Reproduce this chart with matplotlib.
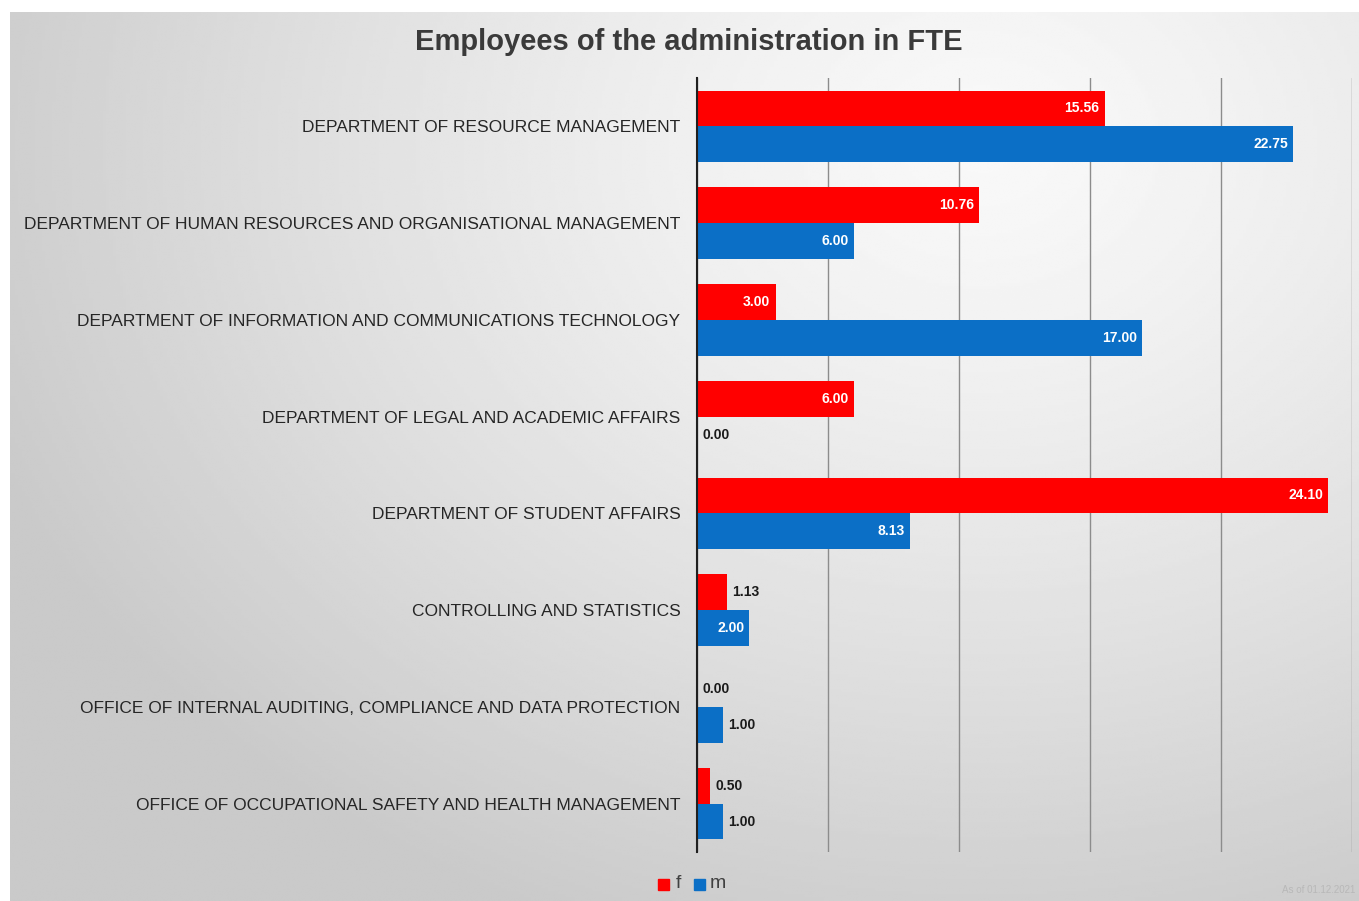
import numpy as np
import matplotlib
matplotlib.use("Agg")
import matplotlib.pyplot as plt
from matplotlib.patches import Rectangle

plt.rcParams['font.family'] = ['Liberation Sans', 'DejaVu Sans']

# Daten
categories = [
    "DEPARTMENT OF RESOURCE MANAGEMENT",
    "DEPARTMENT OF HUMAN RESOURCES AND ORGANISATIONAL MANAGEMENT",
    "DEPARTMENT OF INFORMATION AND COMMUNICATIONS TECHNOLOGY",
    "DEPARTMENT OF LEGAL AND ACADEMIC AFFAIRS",
    "DEPARTMENT OF STUDENT AFFAIRS",
    "CONTROLLING AND STATISTICS",
    "OFFICE OF INTERNAL AUDITING, COMPLIANCE AND DATA PROTECTION",
    "OFFICE OF OCCUPATIONAL SAFETY AND HEALTH MANAGEMENT",
]
fte_f = [15.56, 10.76, 3.00, 6.00, 24.10, 1.13, 0.00, 0.50]
fte_m = [22.75, 6.00, 17.00, 0.00, 8.13, 2.00, 1.00, 1.00]
x_ticks = [0, 5, 10, 15, 20, 25]

RED = "#ff0000"
BLUE = "#0b6fc6"

W, H = 1359, 901
fig = plt.figure(figsize=(W / 100, H / 100), dpi=100)
fig.patch.set_facecolor("white")

# Hintergrund mit Verlauf
bg = fig.add_axes([10 / W, 0, 1 - 10 / W, 1 - 12 / H])
bg.set_axis_off()
yy, xx = np.mgrid[0:1:300j, 0:1:400j]
d = np.sqrt(((xx - 0.72) / 1.0) ** 2 + ((yy - 0.15) / 1.2) ** 2)
shade = np.clip(0.975 - 0.25 * d ** 1.3, 0.79, 0.98)
bg.imshow(shade, cmap="gray", vmin=0, vmax=1, aspect="auto",
          extent=[0, 1, 1, 0], interpolation="bilinear")
bg.set_xlim(0, 1)
bg.set_ylim(1, 0)

ax = fig.add_axes([697 / W, (H - 852) / H, (1352 - 697) / W, 774 / H])
ax.patch.set_alpha(0)

n = len(categories)
y = np.arange(n)
h = 0.37
bars_f = ax.barh(y - h / 2, fte_f, height=h, color=RED, zorder=3)
bars_m = ax.barh(y + h / 2, fte_m, height=h, color=BLUE, zorder=3)

ax.set_xlim(0, 25)
ax.set_ylim(n - 0.5, -0.5)
ax.set_xticks(x_ticks)
ax.xaxis.grid(True, color="#8c8c8c", linewidth=1.0, zorder=0)
ax.tick_params(axis="x", length=0, labelbottom=False)
ax.tick_params(axis="y", length=0, pad=12)
ax.set_yticks(y)
ax.set_yticklabels(categories, fontsize=12.5, color="#262626")
for s in ["top", "right", "bottom"]:
    ax.spines[s].set_visible(False)
ax.spines["left"].set_color("#202020")
ax.spines["left"].set_linewidth(1.5)
ax.spines["left"].set_zorder(4)

for bars, vals in ((bars_f, fte_f), (bars_m, fte_m)):
    for b, v in zip(bars, vals):
        yc = b.get_y() + b.get_height() / 2
        if v >= 2:
            ax.text(v - 0.2, yc, f"{v:.2f}", ha="right", va="center",
                    color="white", fontsize=10, fontweight="bold", zorder=5)
        else:
            ax.text(v + 0.2, yc, f"{v:.2f}", ha="left", va="center",
                    color="#1a1a1a", fontsize=10, fontweight="bold", zorder=5)

fig.text(689 / W, 1 - 42 / H, "Employees of the administration in FTE",
         ha="center", va="center", fontsize=21, fontweight="bold", color="#3a3a3a")

# Legende
fig.patches.append(Rectangle((658 / W, 1 - 890 / H), 11 / W, 11 / H,
                             transform=fig.transFigure, color=RED))
fig.text(676 / W, 1 - 884 / H, "f", ha="left", va="center", fontsize=14, color="#404040")
fig.patches.append(Rectangle((694 / W, 1 - 890 / H), 11 / W, 11 / H,
                             transform=fig.transFigure, color=BLUE))
fig.text(710 / W, 1 - 884 / H, "m", ha="left", va="center", fontsize=14, color="#404040")

fig.text(1355 / W, 1 - 890 / H, "As of 01.12.2021", ha="right", va="center",
         fontsize=7, color="#b8b8b8")

fig.savefig("out.png", dpi=100)
